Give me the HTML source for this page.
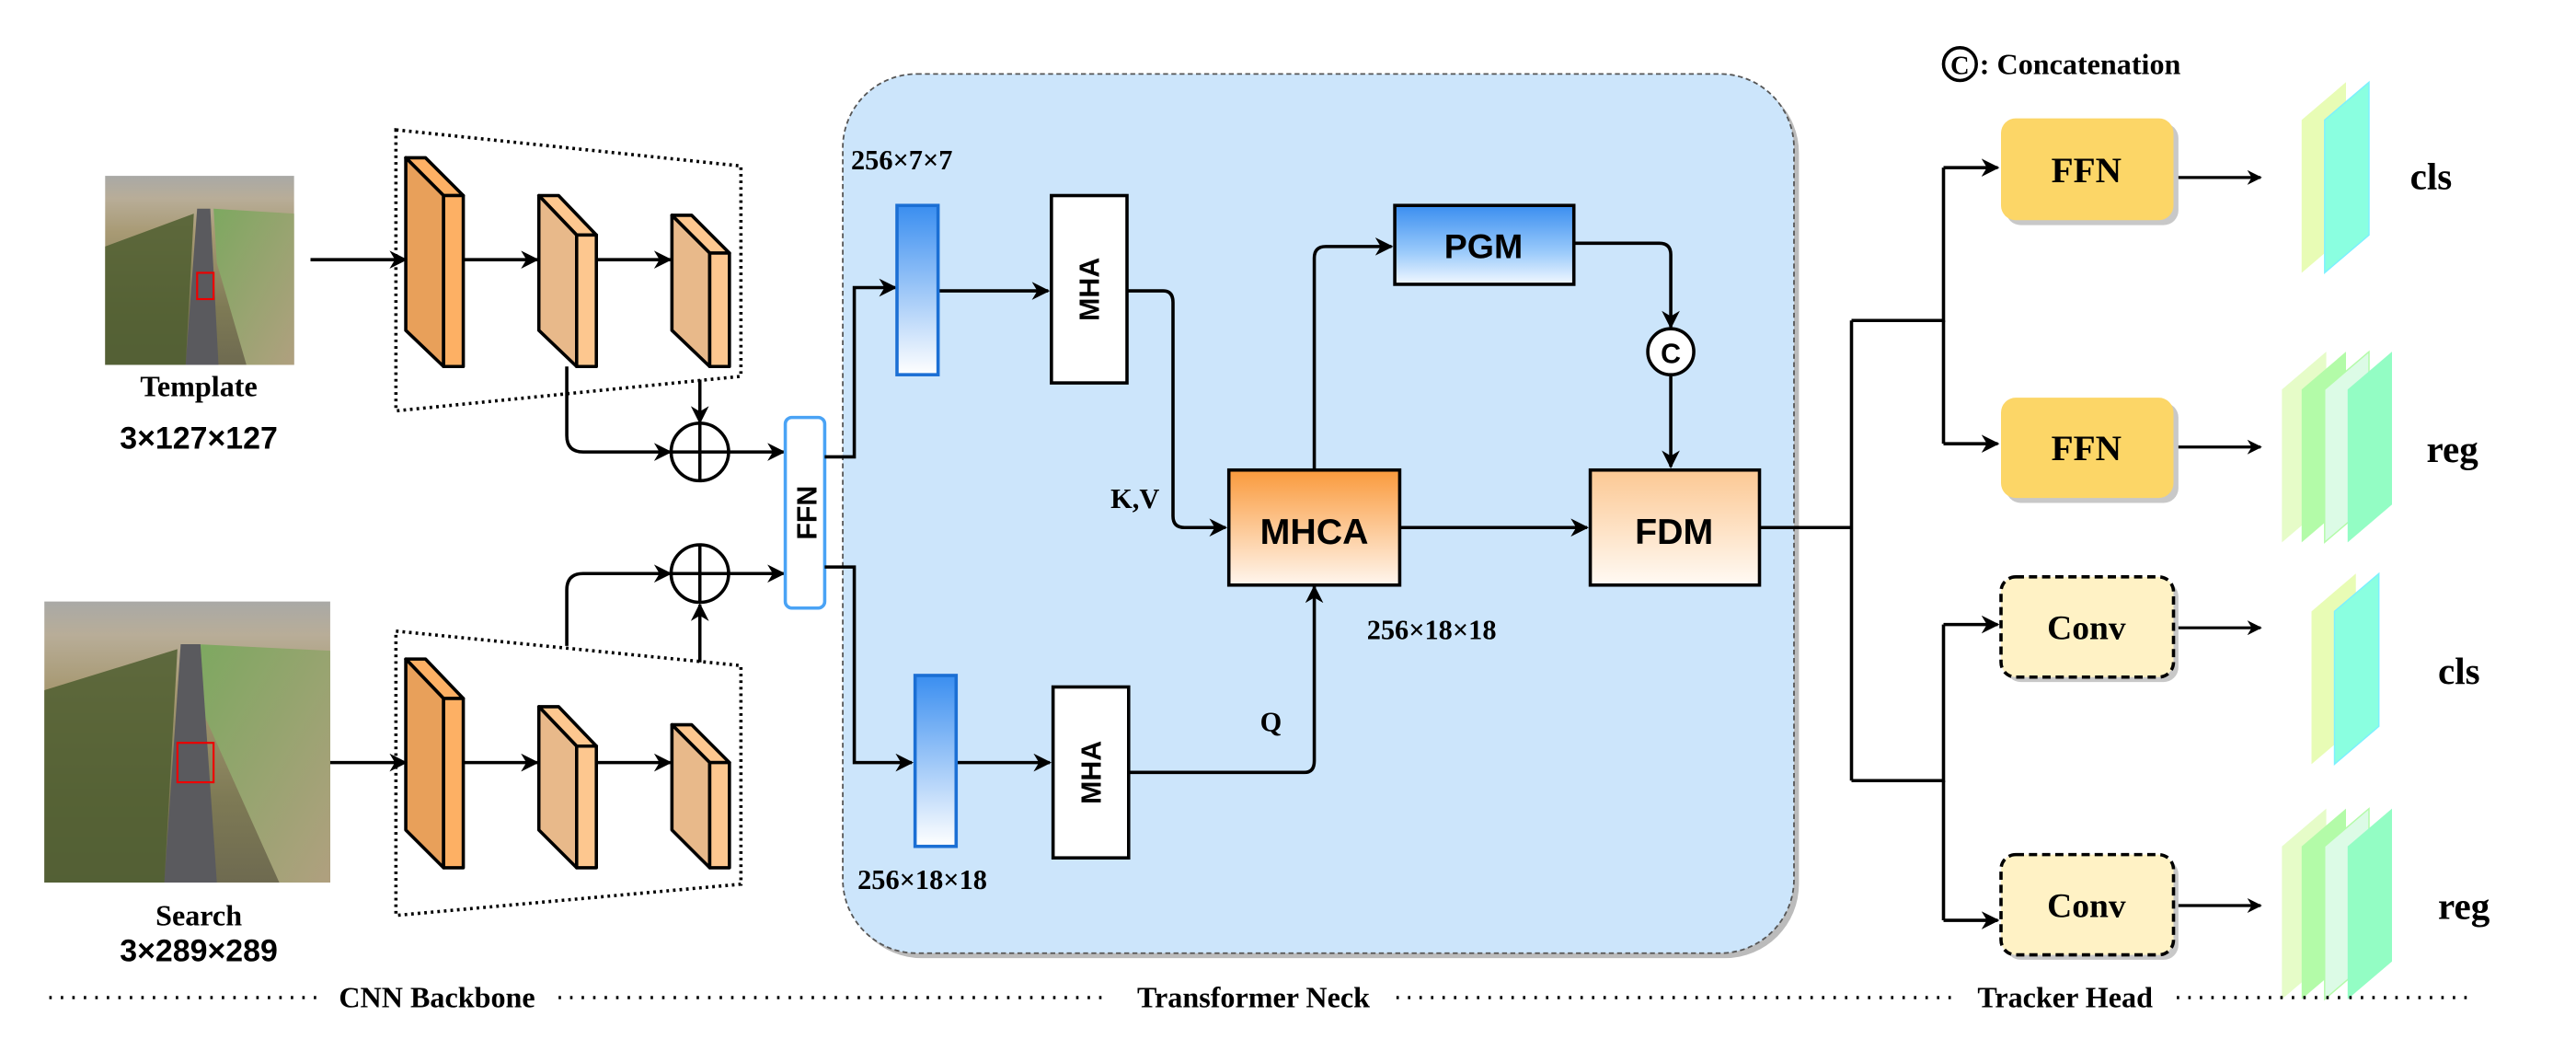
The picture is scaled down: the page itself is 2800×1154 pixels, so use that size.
<!DOCTYPE html>
<html><head><meta charset="utf-8"><style>
html,body{margin:0;padding:0;background:#fff;}
svg{display:block;}
.serif{font-family:"Liberation Serif",serif;font-weight:bold;}
.sans{font-family:"Liberation Sans",sans-serif;font-weight:bold;}
</style></head><body>
<svg width="2800" height="1154" viewBox="0 0 1568 646.2" preserveAspectRatio="none" xmlns="http://www.w3.org/2000/svg">
<defs>
<marker id="ar" viewBox="0 0 10 10" refX="9" refY="5" markerWidth="10" markerHeight="9" markerUnits="userSpaceOnUse" orient="auto"><path d="M0,0 L10,5 L0,10 L3,5 z" fill="#000"/></marker>
<marker id="ar2" viewBox="0 0 10 10" refX="9" refY="5" markerWidth="11" markerHeight="11" markerUnits="userSpaceOnUse" orient="auto"><path d="M0,0 L10,5 L0,10 L3,5 z" fill="#000"/></marker>
<linearGradient id="gb" x1="0" y1="0" x2="0" y2="1"><stop offset="0" stop-color="#3a8ef0"/><stop offset="1" stop-color="#ffffff"/></linearGradient>
<linearGradient id="gp" x1="0" y1="0" x2="0" y2="1"><stop offset="0" stop-color="#3a8ef0"/><stop offset="0.6" stop-color="#9ccbfb"/><stop offset="1" stop-color="#f2f8ff"/></linearGradient>
<linearGradient id="go" x1="0" y1="0" x2="0" y2="1"><stop offset="0" stop-color="#fa9a3c"/><stop offset="1" stop-color="#fff6ee"/></linearGradient>
<linearGradient id="gf" x1="0" y1="0" x2="0" y2="1"><stop offset="0" stop-color="#fcc893"/><stop offset="1" stop-color="#fffaf4"/></linearGradient>
<linearGradient id="sky" x1="0" y1="0" x2="0" y2="1"><stop offset="0" stop-color="#a9a9a6"/><stop offset="0.12" stop-color="#b8ad98"/><stop offset="0.3" stop-color="#a89a74"/><stop offset="0.7" stop-color="#7e7a55"/><stop offset="1" stop-color="#6e6a50"/></linearGradient>
<linearGradient id="grass" x1="0" y1="0" x2="1" y2="1"><stop offset="0" stop-color="#7da860"/><stop offset="1" stop-color="#b0a07f"/></linearGradient>
</defs>

<!-- Template image -->
<rect x="64" y="107" width="115" height="115" fill="url(#sky)"/>
<polygon points="130,127 179,130 179,222 150,222 132,160" fill="url(#grass)"/>
<polygon points="120,127 128,127 133,222 113,222" fill="#5a5a5e"/>
<polygon points="64,150 118,130 113,222 64,222" fill="#4f5e30" opacity="0.85"/>
<rect x="120" y="166" width="10" height="16" fill="none" stroke="#e00" stroke-width="1.2"/>
<text x="121" y="241" class="serif" font-size="18" text-anchor="middle">Template</text>
<text x="121" y="273" class="sans" font-size="19" text-anchor="middle">3×127×127</text>

<!-- Search image -->
<rect x="27" y="366" width="174" height="171" fill="url(#sky)"/>
<polygon points="120,392 201,396 201,537 170,537 122,430" fill="url(#grass)"/>
<polygon points="110,392 122,392 132,537 100,537" fill="#5a5a5e"/>
<polygon points="27,420 108,395 100,537 27,537" fill="#4f5e30" opacity="0.85"/>
<rect x="108" y="452" width="22" height="24" fill="none" stroke="#e00" stroke-width="1.2"/>
<text x="121" y="563" class="serif" font-size="18" text-anchor="middle">Search</text>
<text x="121" y="585" class="sans" font-size="19" text-anchor="middle">3×289×289</text>

<!-- trapezoids -->
<polygon points="241,79 451,101 451,229 241,250" fill="none" stroke="#000" stroke-width="2" stroke-dasharray="1.6,2.4"/>
<polygon points="241,384 451,405 451,538 241,557" fill="none" stroke="#000" stroke-width="2" stroke-dasharray="1.6,2.4"/>

<!-- blocks -->
<g stroke="#000" stroke-width="2" stroke-linejoin="round">
<polygon points="247,96 259,96 282,119 270,119" fill="#fdb064"/>
<polygon points="247,96 270,119 270,223 247,201" fill="#e8a05a"/>
<rect x="270" y="119" width="12" height="104" fill="#fdb064"/>
<polygon points="328,119 340,119 363,143 351,143" fill="#fdc78f"/>
<polygon points="328,119 351,143 351,223 328,201" fill="#e8b98a"/>
<rect x="351" y="143" width="12" height="80" fill="#fdc78f"/>
<polygon points="409,131 421,131 444,154 432,154" fill="#fdc78f"/>
<polygon points="409,131 432,154 432,223 409,201" fill="#e8b98a"/>
<rect x="432" y="154" width="12" height="69" fill="#fdc78f"/>

<polygon points="247,401 259,401 282,425 270,425" fill="#fdb064"/>
<polygon points="247,401 270,425 270,528 247,505" fill="#e8a05a"/>
<rect x="270" y="425" width="12" height="103" fill="#fdb064"/>
<polygon points="328,430 340,430 363,454 351,454" fill="#fdc78f"/>
<polygon points="328,430 351,454 351,528 328,505" fill="#e8b98a"/>
<rect x="351" y="454" width="12" height="74" fill="#fdc78f"/>
<polygon points="409,441 421,441 444,464 432,464" fill="#fdc78f"/>
<polygon points="409,441 432,464 432,528 409,505" fill="#e8b98a"/>
<rect x="432" y="464" width="12" height="64" fill="#fdc78f"/>
</g>

<!-- backbone arrows -->
<g stroke="#000" stroke-width="2" fill="none" marker-end="url(#ar2)">
<line x1="189" y1="158" x2="247" y2="158"/>
<line x1="282" y1="158" x2="327" y2="158"/>
<line x1="363" y1="158" x2="408" y2="158"/>
<line x1="201" y1="464" x2="247" y2="464"/>
<line x1="282" y1="464" x2="327" y2="464"/>
<line x1="363" y1="464" x2="408" y2="464"/>
<path d="M345,223 V265 Q345,275 355,275 H408"/>
<path d="M426,231 V257"/>
<path d="M444,275 H477"/>
<path d="M345,393 V359 Q345,349 355,349 H408"/>
<path d="M426,403 V368"/>
<path d="M444,349 H477"/>
</g>
<g stroke="#000" stroke-width="2" fill="#fff">
<circle cx="426" cy="275" r="17.5"/><line x1="408.5" y1="275" x2="443.5" y2="275"/><line x1="426" y1="257.5" x2="426" y2="292.5"/>
<circle cx="426" cy="349" r="17.5"/><line x1="408.5" y1="349" x2="443.5" y2="349"/><line x1="426" y1="331.5" x2="426" y2="366.5"/>
</g>

<!-- big panel -->
<rect x="516" y="48" width="579" height="535" rx="45" fill="#bbbbbb"/>
<rect x="513" y="45" width="579" height="535" rx="45" fill="#cce5fb" stroke="#555" stroke-width="1" stroke-dasharray="3,2"/>

<!-- FFN vertical -->
<rect x="478" y="254" width="24" height="116" rx="4" fill="#fff" stroke="#4aa3f5" stroke-width="2"/>
<text transform="translate(497,312) rotate(-90)" class="sans" font-size="17" text-anchor="middle">FFN</text>

<g stroke="#000" stroke-width="2" fill="none" marker-end="url(#ar2)">
<path d="M502,278 H520 V175 H545"/>
<path d="M502,345 H520 V464 H555"/>
<path d="M571,177 H638"/>
<path d="M582,464 H639"/>
<path d="M686,177 H708 Q714,177 714,184 V314 Q714,321 721,321 H746"/>
<path d="M687,470 H794 Q800,470 800,463 V357"/>
<path d="M800,286 V157 Q800,150 807,150 H847"/>
<path d="M958,148 H1010 Q1017,148 1017,155 V199"/>
<path d="M1017,229 V284"/>
<path d="M852,321 H966"/>
</g>

<rect x="546" y="125" width="25" height="103" fill="url(#gb)" stroke="#1b6fd4" stroke-width="2"/>
<rect x="557" y="411" width="25" height="104" fill="url(#gb)" stroke="#1b6fd4" stroke-width="2"/>
<text x="518" y="103" class="serif" font-size="17">256×7×7</text>
<text x="522" y="541" class="serif" font-size="17">256×18×18</text>

<rect x="640" y="119" width="46" height="114" fill="#fff" stroke="#000" stroke-width="2"/>
<text transform="translate(669,176) rotate(-90)" class="sans" font-size="17" text-anchor="middle">MHA</text>
<rect x="641" y="418" width="46" height="104" fill="#fff" stroke="#000" stroke-width="2"/>
<text transform="translate(670,470) rotate(-90)" class="sans" font-size="17" text-anchor="middle">MHA</text>

<text x="676" y="309" class="serif" font-size="17">K,V</text>
<text x="767" y="445" class="serif" font-size="17">Q</text>

<rect x="748" y="286" width="104" height="70" fill="url(#go)" stroke="#000" stroke-width="2"/>
<text x="800" y="331" class="sans" font-size="22" text-anchor="middle">MHCA</text>
<rect x="849" y="125" width="109" height="48" fill="url(#gp)" stroke="#000" stroke-width="2"/>
<text x="903" y="157" class="sans" font-size="21" text-anchor="middle">PGM</text>
<circle cx="1017" cy="214" r="14" fill="#fff" stroke="#000" stroke-width="2"/>
<text x="1017" y="221" class="sans" font-size="17" text-anchor="middle">C</text>
<rect x="968" y="286" width="103" height="70" fill="url(#gf)" stroke="#000" stroke-width="2"/>
<text x="1019" y="331" class="sans" font-size="22" text-anchor="middle">FDM</text>
<text x="832" y="389" class="serif" font-size="17">256×18×18</text>

<!-- head connectors -->
<g stroke="#000" stroke-width="2" fill="none">
<path d="M1071,321 H1127"/>
<path d="M1127,195 V475"/>
<path d="M1127,195 H1183 V102"/>
<path d="M1183,195 V270"/>
<path d="M1127,475 H1183 V380"/>
<path d="M1183,475 V560"/>
</g>
<g stroke="#000" stroke-width="2" fill="none" marker-end="url(#ar2)">
<path d="M1183,102 H1216"/>
<path d="M1183,270 H1216"/>
<path d="M1183,380 H1216"/>
<path d="M1183,560 H1216"/>
</g>
<g stroke="#000" stroke-width="1.8" fill="none" marker-end="url(#ar)">
<path d="M1323,108 H1376"/>
<path d="M1323,272 H1376"/>
<path d="M1323,382 H1376"/>
<path d="M1323,551 H1376"/>
</g>

<!-- head boxes -->
<rect x="1221" y="75" width="105" height="62" rx="9" fill="#c8c8c8"/>
<rect x="1218" y="72" width="105" height="62" rx="9" fill="#fcd667"/>
<text x="1270" y="111" class="serif" font-size="22" text-anchor="middle">FFN</text>
<rect x="1221" y="245" width="105" height="61" rx="9" fill="#c8c8c8"/>
<rect x="1218" y="242" width="105" height="61" rx="9" fill="#fcd667"/>
<text x="1270" y="280" class="serif" font-size="22" text-anchor="middle">FFN</text>
<rect x="1221" y="354" width="105" height="61" rx="9" fill="#c8c8c8"/>
<rect x="1218" y="351" width="105" height="61" rx="9" fill="#fff2c5" stroke="#000" stroke-width="2" stroke-dasharray="5,3"/>
<text x="1270" y="389" class="serif" font-size="21" text-anchor="middle">Conv</text>
<rect x="1221" y="523" width="105" height="61" rx="9" fill="#c8c8c8"/>
<rect x="1218" y="520" width="105" height="61" rx="9" fill="#fff2c5" stroke="#000" stroke-width="2" stroke-dasharray="5,3"/>
<text x="1270" y="558" class="serif" font-size="21" text-anchor="middle">Conv</text>

<!-- planes -->
<polygon points="1401,73 1428,50 1428,143 1401,166" fill="#e8fcb5"/>
<polygon points="1415,73 1442,50 1442,143 1415,166" fill="#8affe0" stroke="#7cf0ff" stroke-width="0.8"/>
<polygon points="1389,237 1416,214 1416,307 1389,330" fill="#e6fcc8"/>
<polygon points="1401,237 1428,214 1428,307 1401,330" fill="#b3fba8"/>
<polygon points="1415,237 1442,214 1442,307 1415,330" fill="#dcfbe6" stroke="#b3fba8" stroke-width="0.8"/>
<polygon points="1429,237 1456,214 1456,307 1429,330" fill="#93fdc4"/>
<polygon points="1407,372 1434,349 1434,442 1407,465" fill="#e8fcb5"/>
<polygon points="1421,372 1448,349 1448,442 1421,465" fill="#8affe0" stroke="#7cf0ff" stroke-width="0.8"/>
<polygon points="1389,515 1416,492 1416,585 1389,608" fill="#e6fcc8"/>
<polygon points="1401,515 1428,492 1428,585 1401,608" fill="#b3fba8"/>
<polygon points="1415,515 1442,492 1442,585 1415,608" fill="#dcfbe6" stroke="#b3fba8" stroke-width="0.8"/>
<polygon points="1429,515 1456,492 1456,585 1429,608" fill="#93fdc4"/>

<text x="1467" y="115" class="serif" font-size="23">cls</text>
<text x="1477" y="281" class="serif" font-size="23">reg</text>
<text x="1484" y="416" class="serif" font-size="23">cls</text>
<text x="1484" y="559" class="serif" font-size="23">reg</text>

<!-- legend -->
<circle cx="1193" cy="39" r="10" fill="#fff" stroke="#000" stroke-width="2"/>
<text x="1193" y="45" class="serif" font-size="16" text-anchor="middle">C</text>
<text x="1205" y="45" class="serif" font-size="18">: Concatenation</text>

<!-- bottom dotted line -->
<g stroke="#000" stroke-width="2" stroke-dasharray="1.5,5.5">
<line x1="30" y1="607" x2="195" y2="607"/>
<line x1="340" y1="607" x2="676" y2="607"/>
<line x1="850" y1="607" x2="1190" y2="607"/>
<line x1="1325" y1="607" x2="1505" y2="607"/>
</g>
<text x="266" y="613" class="serif" font-size="18" text-anchor="middle">CNN Backbone</text>
<text x="763" y="613" class="serif" font-size="18" text-anchor="middle">Transformer Neck</text>
<text x="1257" y="613" class="serif" font-size="18" text-anchor="middle">Tracker Head</text>
</svg>
</body></html>
